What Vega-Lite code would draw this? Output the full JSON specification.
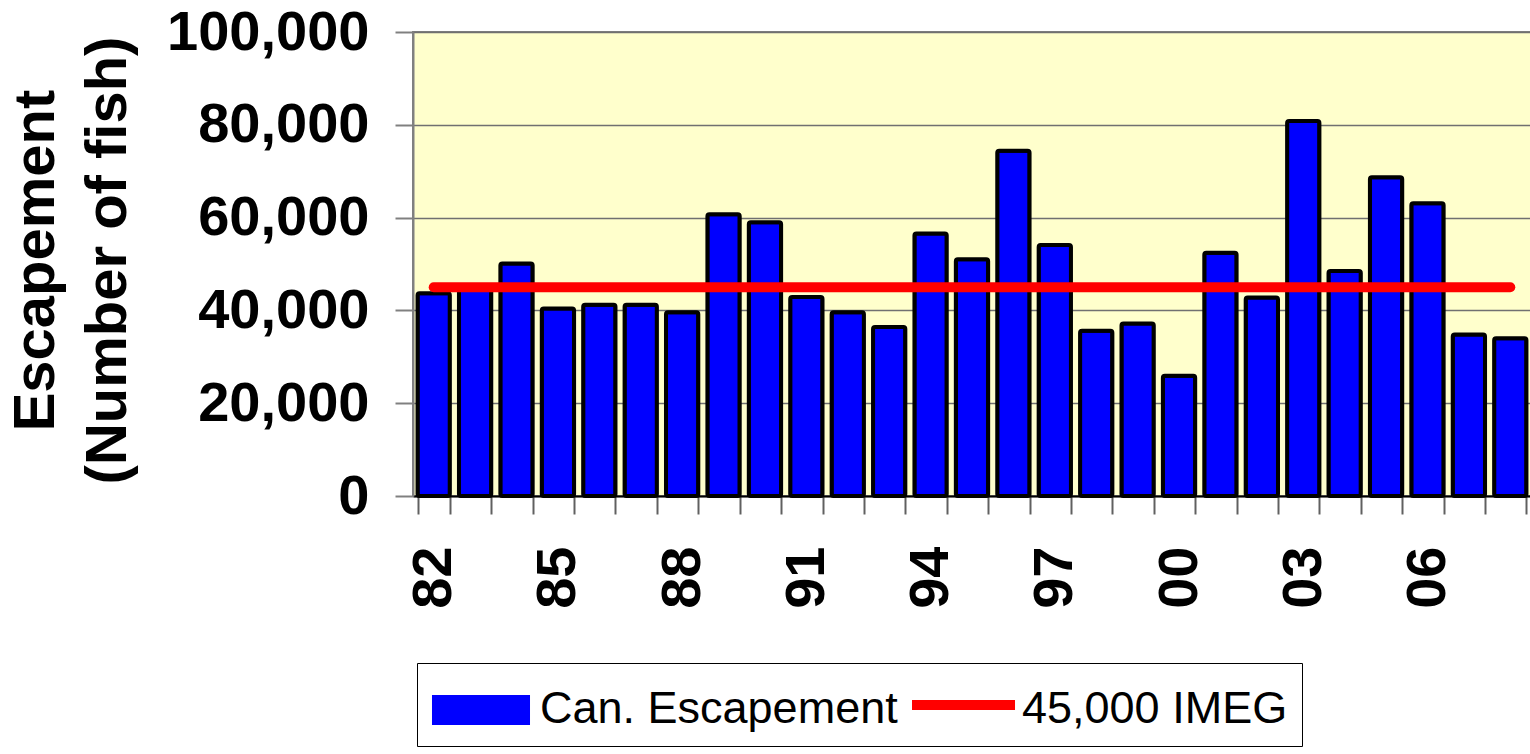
{
  "$schema": "https://vega.github.io/schema/vega-lite/v6.json",
  "autosize": {"type": "none"},
  "padding": {"left": 413, "top": 32, "right": 0, "bottom": 258},
  "width": 1118,
  "height": 464,
  "background": "white",
  "config": {
    "view": {"fill": "#FFFFCC", "stroke": "#808080", "strokeWidth": 2},
    "font": "Liberation Sans"
  },
  "data": {
    "values": [
      {"yr": "82", "esc": 43700, "series": "Can. Escapement", "goal": 45000, "goalName": "45,000 IMEG"},
      {"yr": "83", "esc": 44800, "series": "Can. Escapement", "goal": 45000, "goalName": "45,000 IMEG"},
      {"yr": "84", "esc": 50100, "series": "Can. Escapement", "goal": 45000, "goalName": "45,000 IMEG"},
      {"yr": "85", "esc": 40400, "series": "Can. Escapement", "goal": 45000, "goalName": "45,000 IMEG"},
      {"yr": "86", "esc": 41200, "series": "Can. Escapement", "goal": 45000, "goalName": "45,000 IMEG"},
      {"yr": "87", "esc": 41200, "series": "Can. Escapement", "goal": 45000, "goalName": "45,000 IMEG"},
      {"yr": "88", "esc": 39600, "series": "Can. Escapement", "goal": 45000, "goalName": "45,000 IMEG"},
      {"yr": "89", "esc": 60700, "series": "Can. Escapement", "goal": 45000, "goalName": "45,000 IMEG"},
      {"yr": "90", "esc": 59000, "series": "Can. Escapement", "goal": 45000, "goalName": "45,000 IMEG"},
      {"yr": "91", "esc": 42900, "series": "Can. Escapement", "goal": 45000, "goalName": "45,000 IMEG"},
      {"yr": "92", "esc": 39600, "series": "Can. Escapement", "goal": 45000, "goalName": "45,000 IMEG"},
      {"yr": "93", "esc": 36400, "series": "Can. Escapement", "goal": 45000, "goalName": "45,000 IMEG"},
      {"yr": "94", "esc": 56600, "series": "Can. Escapement", "goal": 45000, "goalName": "45,000 IMEG"},
      {"yr": "95", "esc": 51000, "series": "Can. Escapement", "goal": 45000, "goalName": "45,000 IMEG"},
      {"yr": "96", "esc": 74400, "series": "Can. Escapement", "goal": 45000, "goalName": "45,000 IMEG"},
      {"yr": "97", "esc": 54100, "series": "Can. Escapement", "goal": 45000, "goalName": "45,000 IMEG"},
      {"yr": "98", "esc": 35600, "series": "Can. Escapement", "goal": 45000, "goalName": "45,000 IMEG"},
      {"yr": "99", "esc": 37200, "series": "Can. Escapement", "goal": 45000, "goalName": "45,000 IMEG"},
      {"yr": "00", "esc": 25900, "series": "Can. Escapement", "goal": 45000, "goalName": "45,000 IMEG"},
      {"yr": "01", "esc": 52400, "series": "Can. Escapement", "goal": 45000, "goalName": "45,000 IMEG"},
      {"yr": "02", "esc": 42800, "series": "Can. Escapement", "goal": 45000, "goalName": "45,000 IMEG"},
      {"yr": "03", "esc": 80800, "series": "Can. Escapement", "goal": 45000, "goalName": "45,000 IMEG"},
      {"yr": "04", "esc": 48500, "series": "Can. Escapement", "goal": 45000, "goalName": "45,000 IMEG"},
      {"yr": "05", "esc": 68700, "series": "Can. Escapement", "goal": 45000, "goalName": "45,000 IMEG"},
      {"yr": "06", "esc": 63100, "series": "Can. Escapement", "goal": 45000, "goalName": "45,000 IMEG"},
      {"yr": "07", "esc": 34800, "series": "Can. Escapement", "goal": 45000, "goalName": "45,000 IMEG"},
      {"yr": "08", "esc": 34000, "series": "Can. Escapement", "goal": 45000, "goalName": "45,000 IMEG"}
    ]
  },
  "encoding": {
    "x": {
      "field": "yr",
      "type": "ordinal",
      "sort": null,
      "scale": {"paddingInner": 0.22, "paddingOuter": 0.11},
      "axis": {
        "title": null,
        "tickBand": "extent",
        "labelExpr": "indexof(['82','85','88','91','94','97','00','03','06'], datum.value) >= 0 ? datum.value : ''",
        "labelAngle": 270,
        "labelFont": "Liberation Sans",
        "labelFontSize": 56,
        "labelFontWeight": "bold",
        "labelColor": "black",
        "labelPadding": 32,
        "labelOverlap": false,
        "labelLimit": 0,
        "tickSize": 18,
        "tickColor": "#606060",
        "tickWidth": 2,
        "domainColor": "black",
        "domainWidth": 2,
        "grid": false
      }
    }
  },
  "layer": [
    {
      "mark": {"type": "bar", "stroke": "black", "strokeWidth": 4, "cornerRadius": 2},
      "encoding": {
        "y": {
          "field": "esc",
          "type": "quantitative",
          "scale": {"domain": [0, 100000], "nice": false},
          "axis": {
            "values": [0, 20000, 40000, 60000, 80000, 100000],
            "format": ",.0f",
            "labelFont": "Liberation Sans",
            "labelFontSize": 56,
            "labelFontWeight": "bold",
            "labelColor": "black",
            "labelPadding": 26,
            "labelLimit": 0,
            "tickSize": 18,
            "tickColor": "#808080",
            "tickWidth": 2,
            "domainColor": "#808080",
            "domainWidth": 2,
            "grid": true,
            "gridColor": "#707070",
            "gridWidth": 1.5,
            "title": ["Escapement", "(Number of fish)"],
            "titleFont": "Liberation Sans",
            "titleFontSize": 58,
            "titleFontWeight": "bold",
            "titleColor": "black",
            "titleLineHeight": 72,
            "titleAngle": 270,
            "titleAlign": "center",
            "titleBaseline": "top",
            "titleX": -406,
            "titleY": 228
          }
        },
        "color": {
          "field": "series",
          "type": "nominal",
          "scale": {"domain": ["Can. Escapement", "45,000 IMEG"], "range": ["#0000FF", "#FF0000"]},
          "legend": {
            "title": null,
            "orient": "none",
            "legendX": 4,
            "legendY": 631,
            "direction": "horizontal",
            "labelFont": "Liberation Sans",
            "labelFontSize": 45,
            "labelColor": "black",
            "labelOffset": 45,
            "labelLimit": 0,
            "columnPadding": 8,
            "symbolSize": 3600,
            "symbolType": {"expr": "datum.value === '45,000 IMEG' ? 'M-1.033,-0.233H2.267V-0.033H-1.033Z' : 'M-0.967,-0.4H2.167V0.467H-0.967Z'"},
            "symbolStrokeWidth": 4,
            "symbolOpacity": 1,
            "strokeColor": "black",
            "fillColor": "white",
            "padding": 14
          }
        }
      }
    },
    {
      "mark": {"type": "line", "strokeWidth": 10, "strokeCap": "round"},
      "encoding": {
        "y": {"field": "goal", "type": "quantitative"},
        "color": {"field": "goalName", "type": "nominal"}
      }
    }
  ]
}
